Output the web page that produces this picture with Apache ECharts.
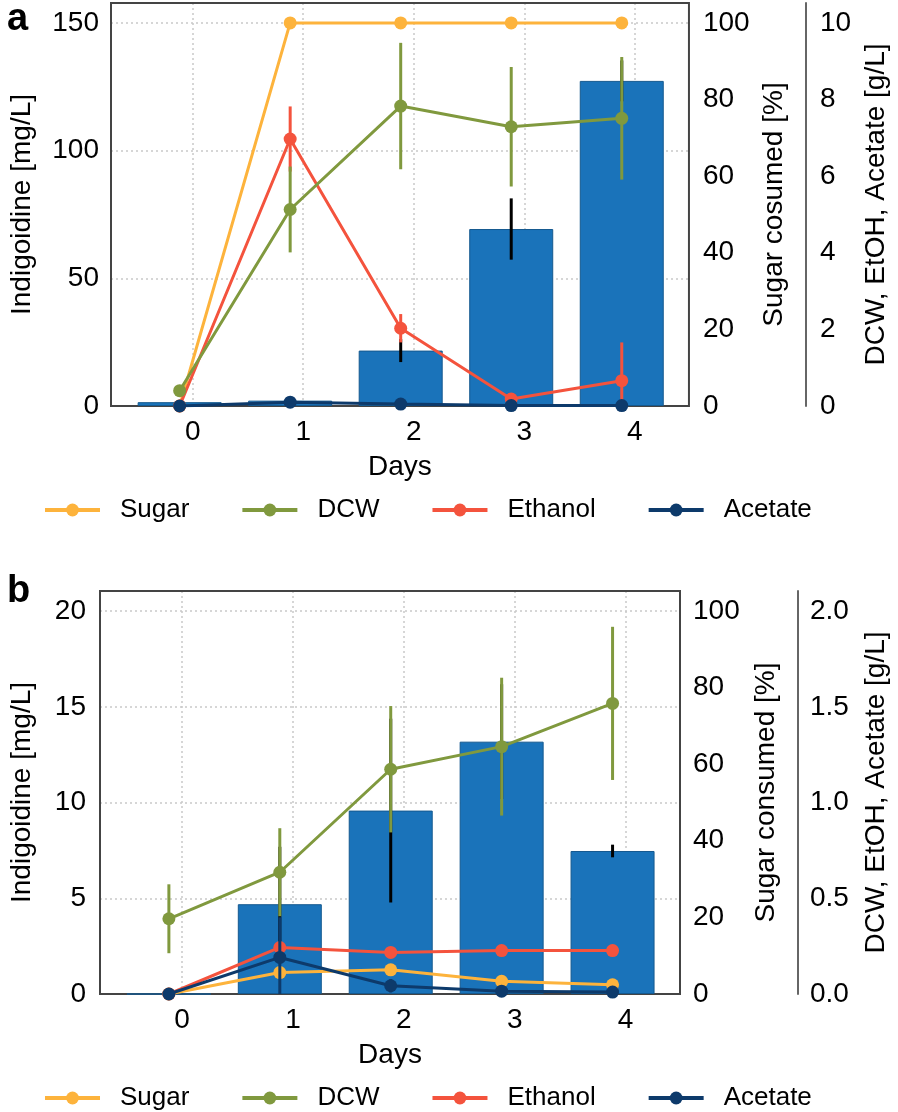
<!DOCTYPE html>
<html><head><meta charset="utf-8">
<script src="https://cdn.jsdelivr.net/npm/echarts@6/dist/echarts.min.js"></script>
<style>html,body{margin:0;padding:0;background:#fff}#c{width:898px;height:1112px}</style>
</head><body><div id="c"></div>
<script>
// ---------- data ----------
const days = [0, 1, 2, 3, 4];
const dayLabels = ['0', '1', '2', '3', '4'];
const seriesNames = ['Sugar', 'DCW', 'Ethanol', 'Acetate'];
// Panel a
const aIndigo = [1.5, 2.1, 21.7, 69.3, 127.3];
const aIndigoErr = [0, 0.5, 4.5, 12, 8];
const aSugar = [0, 100, 100, 100, 100];
const aSugarErr = [0, 0, 0, 0, 0];
const aDCW = [0.4, 5.13, 7.83, 7.29, 7.51];
const aDCWErr = [0, 1.12, 1.65, 1.56, 1.6];
const aEtOH = [0, 6.97, 2.03, 0.18, 0.66];
const aEtOHErr = [0, 0.85, 0.37, 0.1, 1.0];
const aAcetate = [0, 0.1, 0.05, 0.01, 0.01];
const aAcetateErr = [0, 0, 0, 0, 0];
// Panel b
const bIndigo = [0, 4.69, 9.58, 13.18, 7.47];
const bIndigoErr = [0, 3, 4.8, 3, 0.33];
const bSugar = [0, 5.6, 6.3, 3.3, 2.4];
const bSugarErr = [0, 0.8, 0.8, 0.6, 0.8];
const bDCW = [0.393, 0.636, 1.174, 1.292, 1.518];
const bDCWErr = [0.18, 0.23, 0.33, 0.36, 0.4];
const bEtOH = [0, 0.243, 0.217, 0.227, 0.227];
const bEtOHErr = [0, 0.02, 0.015, 0.015, 0.02];
const bAcetate = [0, 0.191, 0.043, 0.015, 0.01];
const bAcetateErr = [0, 0.21, 0.035, 0.01, 0.01];

// ---------- style ----------
const FONT = 'Liberation Sans, Arial, sans-serif';
const C = {bar: '#1a73ba', sugar: '#fdb33c', dcw: '#80993e', etoh: '#f4533d', ace: '#0d3a6b', err: '#000'};
const FS = 28;
const LFS = 26;
const TXT = '#000';
const gridLine = {show: true, lineStyle: {color: '#c9c9c9', type: [2, 3], width: 1.5}};

const chart = echarts.init(document.getElementById('c'));

function yFmt(interval, dec) {
  return v => {
    const k = v / interval;
    if (Math.abs(k - Math.round(k)) > 1e-6) return '';
    return dec ? v.toFixed(dec) : String(Math.round(v));
  };
}
function xAxes(gi) {
  return [
    { gridIndex: gi, type: 'value', min: -0.7394, max: 4.49,
      name: 'Days', nameLocation: 'middle', nameGap: 47,
      nameTextStyle: {fontSize: FS, fontFamily: FONT, color: TXT},
      axisLine: {show: false}, axisTick: {show: false, customValues: days},
      axisLabel: {customValues: days, formatter: v => dayLabels[days.indexOf(v)], fontSize: FS, fontFamily: FONT, color: TXT, margin: 12},
      splitLine: gridLine },
    { gridIndex: gi, type: 'value', min: -0.621, max: 4.608, show: false, splitLine: {show: false} }
  ];
}
function yAxes(gi, cfg) {
  const base = {gridIndex: gi, type: 'value', min: 0, nameLocation: 'middle',
    nameTextStyle: {fontSize: FS, fontFamily: FONT, color: TXT},
    axisTick: {show: false}};
  return [
    Object.assign({}, base, {position: 'left', max: cfg.lmax, interval: cfg.lint, name: 'Indigoidine [mg/L]', nameGap: cfg.lgap,
      axisLine: {show: false},
      axisLabel: {fontSize: FS, fontFamily: FONT, color: TXT, margin: cfg.lmargin, formatter: yFmt(cfg.lint)},
      splitLine: gridLine}),
    Object.assign({}, base, {position: 'right', max: 105.2, interval: 20, name: cfg.sname, nameGap: cfg.sgap,
      axisLine: {show: false},
      axisLabel: {fontSize: FS, fontFamily: FONT, color: TXT, margin: cfg.smargin, formatter: yFmt(20)},
      splitLine: {show: false}}),
    Object.assign({}, base, {position: 'right', offset: cfg.off, max: cfg.gmax, interval: cfg.gint, name: 'DCW, EtOH, Acetate [g/L]', nameGap: cfg.ggap,
      axisLine: {show: true, lineStyle: {color: '#666', width: 2}},
      axisLabel: {fontSize: FS, fontFamily: FONT, color: TXT, margin: cfg.gmargin, formatter: yFmt(cfg.gint, cfg.gdec)},
      splitLine: {show: false}})
  ];
}
function errRender(params, api) {
  const x = api.value(0), v = api.value(1), e = api.value(2);
  if (!e) return null;
  const p1 = api.coord([x, v - e]), p2 = api.coord([x, v + e]);
  return {type: 'line', shape: {x1: p1[0], y1: p1[1], x2: p2[0], y2: p2[1]},
    style: {stroke: api.visual('color'), lineWidth: 3}};
}
function errSeries(name, gi, yi, vals, errs, color, z) {
  return {name: name + ' err', type: 'custom', xAxisIndex: gi * 2 + 1, yAxisIndex: gi * 3 + yi, z: z,
    renderItem: errRender, clip: true, itemStyle: {color: color},
    data: days.map((d, i) => [d, vals[i], errs[i]])};
}
function lineSeries(name, gi, yi, vals, color, z) {
  return {name: name, type: 'line', xAxisIndex: gi * 2 + 1, yAxisIndex: gi * 3 + yi, z: z,
    data: days.map((d, i) => [d, vals[i]]), symbol: 'circle', symbolSize: 13,
    lineStyle: {color: color, width: 3}, itemStyle: {color: color}, clip: true};
}
function panel(gi, d) {
  return [
    {name: 'Indigoidine', type: 'bar', xAxisIndex: gi * 2 + 1, yAxisIndex: gi * 3, z: 2,
      data: days.map((x, i) => [x, d.indigo[i]]), barWidth: 84,
      itemStyle: {color: C.bar, borderColor: '#15598f', borderWidth: 1}},
    errSeries('Indigoidine', gi, 0, d.indigo, d.indigoErr, C.err, 3),
    lineSeries('Sugar', gi, 1, d.sugar, C.sugar, 4),
    errSeries('Sugar', gi, 1, d.sugar, d.sugarErr, C.sugar, 4),
    lineSeries('Ethanol', gi, 2, d.etoh, C.etoh, 5),
    errSeries('Ethanol', gi, 2, d.etoh, d.etohErr, C.etoh, 5),
    lineSeries('DCW', gi, 2, d.dcw, C.dcw, 6),
    errSeries('DCW', gi, 2, d.dcw, d.dcwErr, C.dcw, 6),
    lineSeries('Acetate', gi, 2, d.ace, C.ace, 7),
    errSeries('Acetate', gi, 2, d.ace, d.aceErr, C.ace, 7)
  ];
}
function legend(top) {
  return {data: seriesNames, top: top, left: 38, itemWidth: 55, itemHeight: 16, itemGap: 51,
    lineStyle: {width: 4},
    textStyle: {fontSize: LFS, fontFamily: FONT, color: TXT, padding: [0, 0, 0, 15]}};
}

const option = {
  animation: false,
  backgroundColor: '#fff',
  graphic: [
    {type: 'text', left: 7, top: 1, z: 10, style: {text: 'a', font: 'bold 38px ' + FONT, fill: '#000'}},
    {type: 'text', left: 7, top: 573, z: 10, style: {text: 'b', font: 'bold 38px ' + FONT, fill: '#000'}}
  ],
  grid: [
    {left: 108, top: 3, width: 587, height: 403, show: true, z: 1, borderColor: '#444', borderWidth: 2, backgroundColor: 'transparent'},
    {left: 97, top: 591, width: 587, height: 403, show: true, z: 1, borderColor: '#444', borderWidth: 2, backgroundColor: 'transparent'}
  ],
  legend: [legend(492), legend(1080)],
  xAxis: [].concat(xAxes(0), xAxes(1)),
  yAxis: [].concat(
    yAxes(0, {lmax: 157.8, lint: 50, lgap: 75, lmargin: 12, sname: 'Sugar cosumed [%]', sgap: 70, smargin: 14,
              off: 117, gmax: 10.52, gint: 2, gdec: 0, ggap: 52, gmargin: 14}),
    yAxes(1, {lmax: 21.05, lint: 5, lgap: 64, lmargin: 14, sname: 'Sugar consumed [%]', sgap: 72, smargin: 13,
              off: 118, gmax: 2.105, gint: 0.5, gdec: 1, ggap: 64, gmargin: 12})
  ),
  series: [].concat(
    panel(0, {indigo: aIndigo, indigoErr: aIndigoErr, sugar: aSugar, sugarErr: aSugarErr, dcw: aDCW, dcwErr: aDCWErr,
              etoh: aEtOH, etohErr: aEtOHErr, ace: aAcetate, aceErr: aAcetateErr}),
    panel(1, {indigo: bIndigo, indigoErr: bIndigoErr, sugar: bSugar, sugarErr: bSugarErr, dcw: bDCW, dcwErr: bDCWErr,
              etoh: bEtOH, etohErr: bEtOHErr, ace: bAcetate, aceErr: bAcetateErr})
  )
};
chart.setOption(option);
</script>
</body></html>
